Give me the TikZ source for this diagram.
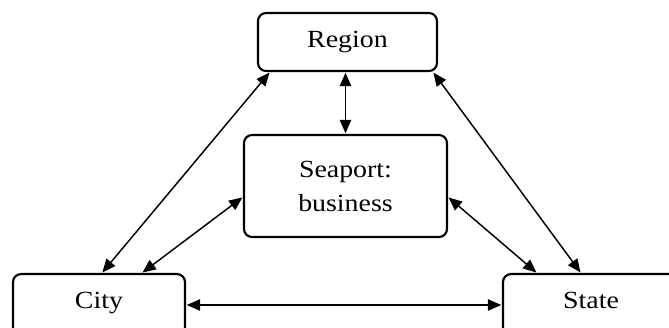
\documentclass[tikz,border=0pt]{standalone}
\usepackage{fontspec}
\setmainfont{Liberation Serif}[FakeStretch=1.13]
\usetikzlibrary{arrows.meta,calc}
\tikzset{
  box/.style={draw=black, line width=1.6pt, rounded corners=6pt, fill=white, inner sep=0pt,
              font=\fontsize{18.5}{25.5}\selectfont, align=center},
  dbl/.style={line width=1.1pt, {Triangle[length=10pt,width=8.5pt]}-{Triangle[length=10pt,width=8.5pt]}, shorten <=0.5pt, shorten >=0.5pt}
}
\begin{document}
\begin{tikzpicture}[x=0.75pt,y=-0.75pt]
\useasboundingbox (0,0) rectangle (669,328);
\clip (0,0) rectangle (669,328);
\fill[white] (0,0) rectangle (669,328);
\node[box, minimum width=179*0.75pt, minimum height=58*0.75pt] (region) at (347.5,42) {Region};
\node[box, minimum width=203*0.75pt, minimum height=102*0.75pt] (seaport) at (345.5,186) {Seaport:\\business};
\node[box, minimum width=172*0.75pt, text height=26pt, text depth=24pt, anchor=north] (city) at (99,273) {City};
\node[box, minimum width=176*0.75pt, text height=26pt, text depth=24pt, anchor=north] (state) at (591,273) {State};
\draw[dbl] (region.south -| seaport.north) -- (seaport.north);
\draw[dbl] ($(region.south west)+(13,0)$) -- ($(city.north west)+(90,0)$);
\draw[dbl] ($(region.south east)+(-5,0)$) -- ($(state.north west)+(79,0)$);
\draw[dbl] ($(seaport.west)+(0,11)$) -- ($(city.north west)+(130,0)$);
\draw[dbl] ($(seaport.east)+(0,11)$) -- ($(state.north west)+(35,0)$);
\draw[dbl] ($(city.north east)+(0,32)$) -- ($(state.north west)+(0,32)$);
\end{tikzpicture}
\end{document}
